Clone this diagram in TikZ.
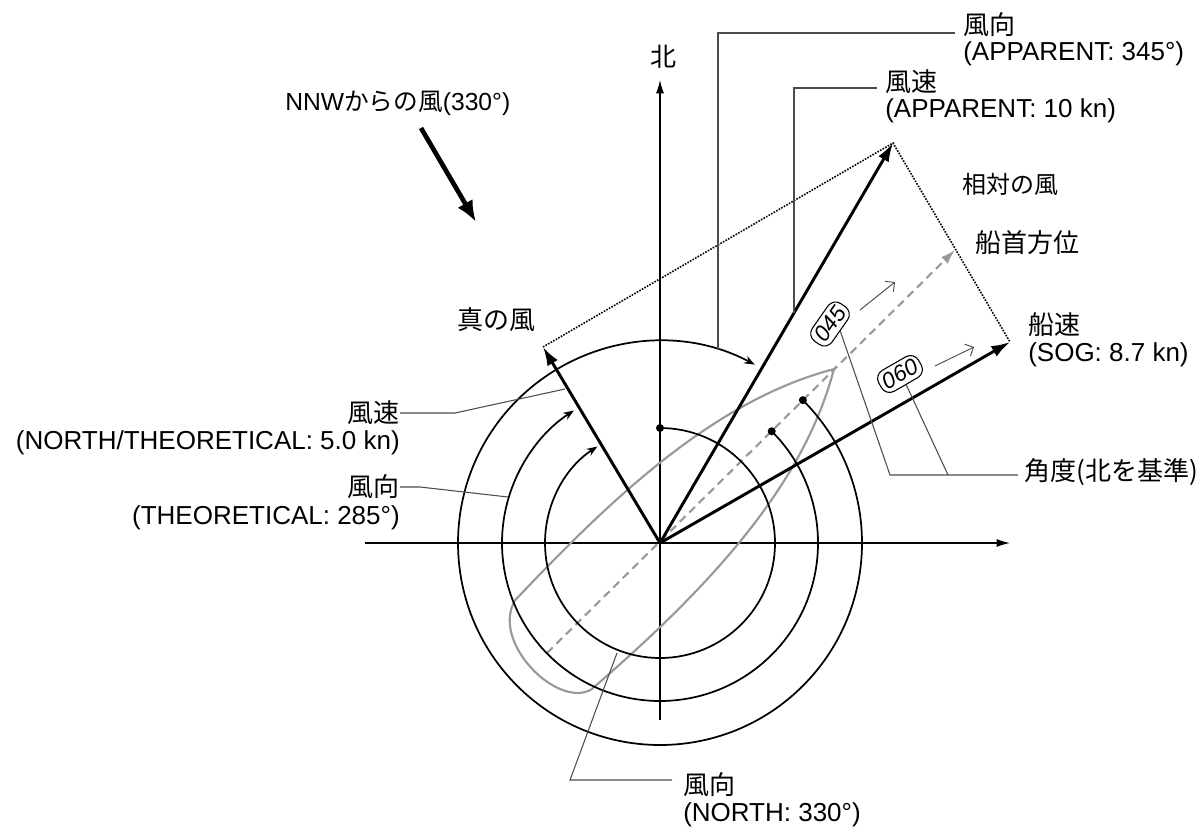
\documentclass[tikz,border=0pt]{standalone}
\usepackage{fontspec}
\setmainfont{Liberation Sans}
\newfontfamily\jp{Noto Sans CJK JP}
\usetikzlibrary{arrows.meta}
\begin{document}
\begin{tikzpicture}[x=0.75pt,y=0.75pt,
  txt/.style={inner sep=0pt,font=\fontsize{19.5}{23}\selectfont},
  vec/.style={line width=2.2pt,-{Latex[length=14pt,width=9pt]}},
  ring/.style={line width=1.3pt},
  ringarr/.style={line width=1.3pt,-{Stealth[length=8pt,width=6pt]}},
  lead/.style={line width=0.8pt,black!70},
  dots/.style={line width=1.2pt,densely dotted},
  tag/.style={draw,line width=0.8pt,rounded corners=7pt,inner sep=3pt,font=\fontsize{17}{19}\selectfont\itshape,fill=white}]
\useasboundingbox (0,0) rectangle (1201,-831);
\coordinate (O) at (660,-543);
% axes
\draw[line width=0.9pt,-{Latex[length=10pt,width=6pt]}] (660,-720) -- (660,-80) coordinate (N);
\draw[line width=0.9pt,-{Latex[length=10pt,width=6pt]}] (365,-543) -- (1010,-543) coordinate (E);
% hull
\begin{scope}[shift={(O)},rotate=45]
\draw[line width=1.6pt,black!40] (246,0) .. controls (140,62) and (0,66) .. (-143,62)
  .. controls (-190,50) and (-190,-45) .. (-152,-55) .. controls (0,-66) and (140,-62) .. cycle;
\end{scope}
% heading
\coordinate (Ht) at (547,-653);
\coordinate (H) at (955,-250);
\draw[line width=1.6pt,black!40,dashed,dash pattern=on 6pt off 4pt,-{Latex[length=11pt,width=7pt]}] (Ht) -- (H);
% rings
\fill (O) ++(90:115) coordinate (d1) circle (3pt);
\fill (O) ++(45:158) coordinate (d2) circle (3pt);
\fill (O) ++(45:202) coordinate (d3) circle (3pt);
\draw[ringarr] (d1) arc[start angle=90,end angle=-237,radius=115];
\draw[ringarr] (d2) arc[start angle=45,end angle=-237,radius=158];
\draw[ringarr] (d3) arc[start angle=45,end angle=-298,radius=202];
% vectors
\coordinate (T) at (543,-347);
\coordinate (S) at (1010,-342);
\coordinate (A) at (893,-143);
\draw[dots] (T) -- (A) -- (S);
\draw[vec] (O) -- (T);
\draw[vec] (O) -- (A);
\draw[vec] (O) -- (S);
% NNW arrow
\coordinate (w1) at (421,-128);
\coordinate (w2) at (476,-222);
\draw[line width=3.5pt,-{Latex[length=16pt,width=13pt]}] (w1) -- (w2);
% tags
\node[tag,rotate=55] (t45) at (830,-324) {045};
\node[tag,rotate=30] (t60) at (900,-374) {060};
\draw[line width=0.7pt,black!70,-{Straight Barb[length=5pt]}] (860,-310) -- (895,-282);
\draw[line width=0.7pt,black!70,-{Straight Barb[length=5pt]}] (935,-366) -- (974,-347);
% labels
\node[txt] (lN) at (663,-57) {\jp 北};
\node[txt,anchor=west] (l1a) at (963,-25) {\jp 風向};
\node[txt,anchor=west] (l1b) at (963,-54) {(APPARENT: 345°)};
\node[txt,anchor=west] (l2a) at (885,-82) {\jp 風速};
\node[txt,anchor=west] (l2b) at (885,-111) {(APPARENT: 10 kn)};
\node[txt,anchor=west,font=\fontsize{18}{21}\selectfont] (l3) at (962,-184) {\jp 相対の風};
\node[txt,anchor=west] (l4) at (975,-243) {\jp 船首方位};
\node[txt,anchor=west] (l5a) at (1028,-325) {\jp 船速};
\node[txt,anchor=west] (l5b) at (1028,-355) {(SOG: 8.7 kn)};
\node[txt,anchor=west] (l6) at (1024,-472) {\jp 角度(北を基準)};
\node[txt] (l7) at (496,-320) {\jp 真の風};
\node[txt,anchor=west,font=\fontsize{18.5}{22}\selectfont] (l8) at (285,-103) {NNW{\jp からの風}(330°)};
\node[txt,anchor=east] (l9a) at (400,-413) {\jp 風速};
\node[txt,anchor=east] (l9b) at (400,-443) {(NORTH/THEORETICAL: 5.0 kn)};
\node[txt,anchor=east] (l10a) at (400,-487) {\jp 風向};
\node[txt,anchor=east] (l10b) at (400,-518) {(THEORETICAL: 285°)};
\node[txt,anchor=west] (l11a) at (683,-785) {\jp 風向};
\node[txt,anchor=west] (l11b) at (683,-815) {(NORTH: 330°)};
% leaders
\draw[lead] (955,-33) -- (718,-33) -- (718,-350);
\draw[lead] (877,-88) -- (794,-88) -- (794,-313);
\draw[lead] (t45.south) -- (890,-475) -- (1018,-475);
\draw[lead] (t60.south) -- (948,-475);
\draw[lead] (l9a.east) -- (455,-413) -- (565,-389);
\draw[lead] (l10a.east) -- (420,-487) -- (508,-497);
\draw[lead] (617,-653) -- (570,-780) -- (672,-780);
\end{tikzpicture}
\end{document}
